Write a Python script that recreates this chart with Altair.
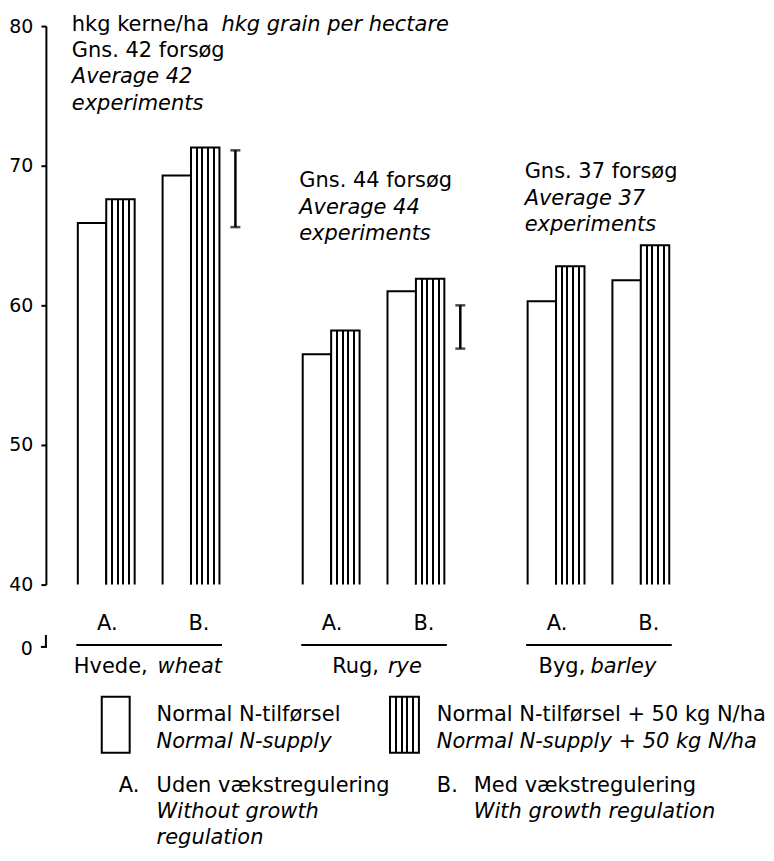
import altair as alt
import pandas as pd

# ---------------- data ----------------
crops = ["Hvede", "Rug", "Byg"]
crops_en = ["wheat", "rye", "barley"]
regulation = ["A", "B"]
nitrogen = ["N", "N50"]
wheat_normal = [65.9, 69.3]
wheat_plus50 = [67.6, 71.3]
rye_normal = [56.5, 61.0]
rye_plus50 = [58.2, 61.9]
barley_normal = [60.3, 61.8]
barley_plus50 = [62.8, 64.3]
lsd_low = [65.6, 56.9]      # wheat, rye
lsd_high = [71.1, 60.0]
experiments = [42, 44, 37]
y_ticks = [40, 50, 60, 70, 80]

# ---------------- layout / style ----------------
FONT = "DejaVu Sans"
FS = 21
W, H = 146, 560
SP = 79.5
STEP = 85.0
P_IN = 28.0 / STEP
P_OUT = (W / STEP - 2 + P_IN) / 2
BAND = STEP * (1 - P_IN)
X0 = [76 + i * (W + SP) for i in range(3)]
Y0 = 22.5
ONE = pd.DataFrame({"a": [0]})


def stripes():
    stops = [alt.GradientStop(color="white", offset=0)]
    for c in [0.2, 0.4, 0.6, 0.8]:
        stops += [alt.GradientStop(color="white", offset=c - 0.035),
                  alt.GradientStop(color="black", offset=c - 0.035),
                  alt.GradientStop(color="black", offset=c + 0.035),
                  alt.GradientStop(color="white", offset=c + 0.035)]
    stops.append(alt.GradientStop(color="white", offset=1))
    return alt.LinearGradient(gradient="linear", stops=stops, x1=0, x2=1, y1=0, y2=0)


HATCH = stripes()


def txt(s, px, py, ox, italic=False, align="left"):
    return alt.Chart(ONE).mark_text(
        font=FONT, fontSize=FS, fontStyle="italic" if italic else "normal",
        align=align, baseline="alphabetic", color="black"
    ).encode(x=alt.value(px - ox), y=alt.value(py - Y0), text=alt.value(s))


def panel(i, normal, plus50, lsd, texts, name_parts, first=False):
    ox = X0[i]
    df = pd.DataFrame({
        "reg": regulation * 2,
        "nit": ["N", "N"] + ["N50", "N50"],
        "value": normal + plus50,
    })
    if first:
        yaxis = alt.Axis(values=y_ticks, offset=30, domainColor="black", domainWidth=2,
                         tickColor="black", tickWidth=2, tickSize=5, labelFont=FONT,
                         labelFontSize=19, labelColor="black", labelPadding=8,
                         grid=False, title=None, format="d")
    else:
        yaxis = None
    xaxis = alt.Axis(title=None, labels=False, ticks=False, domainColor="black",
                     domainWidth=2, offset=60, grid=False)
    xscale = alt.Scale(domain=regulation, paddingInner=P_IN, paddingOuter=P_OUT)
    xenc = alt.X("reg:N", scale=xscale, axis=xaxis)
    xoff = alt.XOffset("nit:N", scale=alt.Scale(domain=nitrogen, paddingInner=0, paddingOuter=0))
    yenc = alt.Y("value:Q", scale=alt.Scale(domain=[40, 80], nice=False, zero=False), axis=yaxis)

    base = alt.Chart(df).encode(x=xenc, xOffset=xoff, y=yenc, y2=alt.datum(38))
    bars_n = base.transform_filter(alt.datum.nit == "N").mark_bar(
        fill="white", stroke="black", strokeWidth=2, clip=True)
    bars_h = base.transform_filter(alt.datum.nit == "N50").mark_bar(
        fill=HATCH, stroke="black", strokeWidth=2, clip=True)
    layers = [bars_n, bars_h]

    if lsd is not None:
        edf = pd.DataFrame({"reg": ["B"], "lo": [lsd[0]], "hi": [lsd[1]]})
        layers.append(alt.Chart(edf).mark_rule(color="black", strokeWidth=2.5, xOffset=16).encode(
            x=alt.X("reg:N", bandPosition=1, axis=xaxis), y=alt.Y("lo:Q", axis=yaxis), y2="hi:Q"))
        for f in ["lo", "hi"]:
            layers.append(alt.Chart(edf).mark_tick(color="black", thickness=2.5, size=10,
                                                   xOffset=16 + BAND / 2).encode(
                x=alt.X("reg:N", axis=xaxis), y=alt.Y(f + ":Q", axis=yaxis)))

    # A. / B. labels under the bars
    lab = pd.DataFrame({"reg": regulation, "lab": ["A.", "B."]})
    for r, dx in [("A", 1), ("B", 8)]:
        layers.append(alt.Chart(lab).transform_filter(alt.datum.reg == r).mark_text(
            font=FONT, fontSize=FS, baseline="alphabetic", align="center", dx=dx, color="black"
        ).encode(x=alt.X("reg:N", axis=xaxis), y=alt.value(628 - Y0), text="lab:N"))

    for t in texts:
        layers.append(txt(t[0], t[1], t[2], ox, italic=t[3]))
    for t in name_parts:
        layers.append(txt(t[0], t[1], t[2], ox, italic=t[3]))

    if first:
        # axis break "0"
        layers.append(alt.Chart(ONE).mark_text(
            font=FONT, fontSize=19, align="right", baseline="alphabetic", color="black"
        ).encode(x=alt.value(33 - ox), y=alt.value(653 - Y0), text=alt.value("0")))
        layers.append(alt.Chart(ONE).mark_rule(color="black", strokeWidth=2).encode(
            x=alt.value(46 - ox), y=alt.value(633 - Y0), y2=alt.value(645 - Y0)))
        layers.append(alt.Chart(ONE).mark_rule(color="black", strokeWidth=2).encode(
            x=alt.value(41 - ox), x2=alt.value(47 - ox), y=alt.value(645 - Y0)))
        # legend swatches
        layers.append(alt.Chart(ONE).mark_rect(fill="white", stroke="black", strokeWidth=2).encode(
            x=alt.value(102 - ox), x2=alt.value(130 - ox), y=alt.value(695 - Y0), y2=alt.value(751 - Y0)))
        layers.append(alt.Chart(ONE).mark_rect(fill=HATCH, stroke="black", strokeWidth=2).encode(
            x=alt.value(391 - ox), x2=alt.value(420 - ox), y=alt.value(695 - Y0), y2=alt.value(751 - Y0)))
        legend_texts = [
            ("Normal N-tilførsel", 157, 719, False),
            ("Normal N-supply", 157, 746, True),
            ("Normal N-tilførsel + 50 kg N/ha", 438, 719, False),
            ("Normal N-supply + 50 kg N/ha", 438, 746, True),
            ("A.", 119, 790, False),
            ("Uden vækstregulering", 157, 790, False),
            ("Without growth", 157, 817, True),
            ("regulation", 157, 843, True),
            ("B.", 438, 790, False),
            ("Med vækstregulering", 475, 790, False),
            ("With growth regulation", 475, 817, True),
        ]
        for t in legend_texts:
            layers.append(txt(t[0], t[1], t[2], ox, italic=t[3]))

    return alt.layer(*layers).properties(width=W, height=H)


p1 = panel(0, wheat_normal, wheat_plus50, (lsd_low[0], lsd_high[0]),
           [("hkg kerne/ha", 72, 27, False), ("hkg grain per hectare", 222, 27, True),
            (f"Gns. {experiments[0]} forsøg", 72, 53.5, False),
            (f"Average {experiments[0]}", 72, 80, True), ("experiments", 72, 107, True)],
           [(crops[0] + ",", 74, 671, False), (crops_en[0], 158, 671, True)], first=True)
p2 = panel(1, rye_normal, rye_plus50, (lsd_low[1], lsd_high[1]),
           [(f"Gns. {experiments[1]} forsøg", 300, 184, False),
            (f"Average {experiments[1]}", 300, 211, True), ("experiments", 300, 237.5, True)],
           [(crops[1] + ",", 333, 671, False), (crops_en[1], 389, 671, True)])
p3 = panel(2, barley_normal, barley_plus50, None,
           [(f"Gns. {experiments[2]} forsøg", 526, 175, False),
            (f"Average {experiments[2]}", 526, 201.5, True), ("experiments", 526, 228, True)],
           [(crops[2] + ",", 540, 671, False), (crops_en[2], 592, 671, True)])

chart = alt.hconcat(p1, p2, p3, spacing=SP, bounds="flush").properties(
    padding={"left": 0, "top": 4, "right": 0, "bottom": 0},
    background="white",
).configure_view(stroke=None)

chart.save("out.html", embed_options={"renderer": "svg", "actions": False})
